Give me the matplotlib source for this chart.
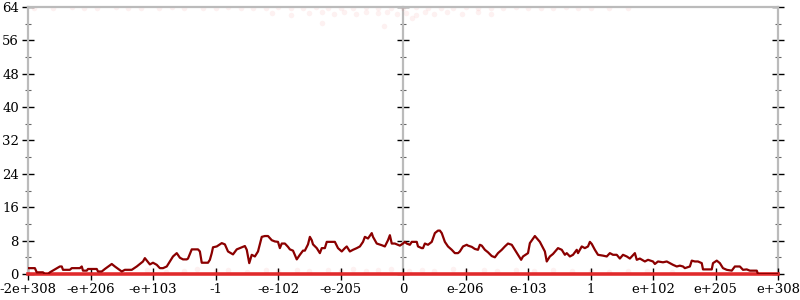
import numpy as np
import matplotlib.pyplot as plt

# tick positions along the ordered float axis, and their labels
tick_pos = [-6, -5, -4, -3, -2, -1, 0, 1, 2, 3, 4, 5, 6]
tick_lbl = ["-2e+308", "-e+206", "-e+103", "-1", "-e-102", "-e-205", "0",
            "e-206", "e-103", "1", "e+102", "e+205", "e+308"]

# histogram trace
line_x = [-6.00, -5.89, -5.86, -5.76, -5.73, -5.68, -5.65, -5.57, -5.49, -5.46,
          -5.44, -5.33, -5.30, -5.17, -5.14, -5.12, -5.06, -5.04, -4.90, -4.88,
          -4.82, -4.77, -4.66, -4.61, -4.50, -4.45, -4.34, -4.26, -4.16, -4.13,
          -4.05, -4.00, -3.94, -3.89, -3.84, -3.78, -3.68, -3.62, -3.57, -3.52,
          -3.46, -3.44, -3.38, -3.28, -3.25, -3.22, -3.12, -3.09, -3.06, -3.04,
          -2.98, -2.90, -2.85, -2.80, -2.72, -2.66, -2.58, -2.53, -2.50, -2.46,
          -2.42, -2.37, -2.32, -2.26, -2.21, -2.16, -2.10, -2.05, -2.00, -1.97,
          -1.94, -1.89, -1.84, -1.81, -1.76, -1.70, -1.65, -1.60, -1.57, -1.52,
          -1.49, -1.46, -1.44, -1.38, -1.33, -1.30, -1.25, -1.22, -1.17, -1.09,
          -1.04, -0.98, -0.93, -0.90, -0.85, -0.80, -0.74, -0.69, -0.64, -0.61,
          -0.56, -0.50, -0.48, -0.42, -0.34, -0.29, -0.24, -0.21, -0.18, -0.13,
          -0.05, 0.00, 0.03, 0.06, 0.11, 0.14, 0.22, 0.24, 0.30, 0.32,
          0.35, 0.40, 0.46, 0.51, 0.56, 0.59, 0.62, 0.67, 0.72, 0.78,
          0.83, 0.88, 0.91, 0.96, 1.02, 1.04, 1.10, 1.15, 1.20, 1.23,
          1.26, 1.31, 1.36, 1.42, 1.47, 1.52, 1.58, 1.63, 1.68, 1.74,
          1.79, 1.84, 1.89, 1.92, 2.00, 2.03, 2.11, 2.19, 2.27, 2.30,
          2.35, 2.40, 2.48, 2.54, 2.59, 2.62, 2.67, 2.72, 2.78, 2.80,
          2.86, 2.91, 2.96, 2.99, 3.02, 3.07, 3.12, 3.20, 3.26, 3.31,
          3.36, 3.42, 3.47, 3.52, 3.58, 3.63, 3.71, 3.74, 3.79, 3.87,
          3.92, 4.00, 4.03, 4.08, 4.16, 4.22, 4.27, 4.32, 4.38, 4.43,
          4.48, 4.51, 4.59, 4.62, 4.67, 4.72, 4.78, 4.80, 4.94, 4.96,
          5.02, 5.07, 5.12, 5.18, 5.26, 5.31, 5.39, 5.44, 5.50, 5.55,
          5.66, 5.68, 6.00]
line_y = [1.4, 1.4, 0.4, 0.4, 0.0, 0.0, 0.4, 1.1, 1.8, 1.8,
          1.0, 1.0, 1.4, 1.4, 1.8, 0.8, 0.8, 1.2, 1.2, 0.6,
          0.6, 1.2, 2.4, 1.8, 0.6, 1.0, 1.0, 1.8, 3.0, 3.8,
          2.3, 2.7, 2.2, 1.4, 1.4, 1.8, 4.2, 5.0, 3.9, 3.5,
          3.5, 3.7, 5.9, 5.9, 5.4, 2.7, 2.7, 3.4, 5.0, 6.4,
          6.6, 7.4, 7.1, 5.4, 4.7, 5.9, 6.4, 6.7, 5.8, 2.6,
          4.6, 4.2, 5.4, 8.9, 9.1, 9.1, 8.1, 7.8, 7.7, 6.2,
          7.3, 7.3, 6.5, 5.9, 5.6, 3.5, 4.6, 5.6, 5.6, 7.1,
          8.9, 8.1, 7.1, 6.2, 5.0, 6.2, 6.2, 7.7, 7.7, 7.7,
          6.2, 5.4, 6.2, 6.6, 5.4, 5.8, 6.2, 6.6, 7.7, 8.9,
          8.5, 9.8, 8.9, 7.3, 6.9, 6.6, 8.1, 9.3, 7.3, 7.3,
          6.8, 7.3, 7.7, 7.3, 7.0, 7.7, 7.7, 6.6, 6.2, 6.2,
          7.3, 7.0, 7.7, 9.8, 10.4, 10.4, 9.8, 7.7, 6.6, 5.8,
          5.0, 5.0, 5.4, 6.6, 7.0, 6.8, 6.5, 6.0, 5.8, 7.0,
          6.8, 5.8, 5.2, 4.3, 4.0, 5.0, 5.8, 6.6, 7.3, 7.0,
          5.8, 4.6, 3.4, 4.2, 5.0, 7.4, 9.1, 7.7, 5.4, 3.0,
          4.2, 4.8, 6.2, 5.8, 4.6, 5.0, 4.2, 4.6, 5.8, 5.0,
          6.6, 6.2, 6.6, 7.7, 7.2, 5.8, 4.6, 4.4, 4.2, 5.0,
          4.6, 4.6, 3.7, 4.6, 4.2, 3.7, 5.0, 3.4, 3.7, 3.0,
          3.4, 3.0, 2.4, 3.0, 2.8, 3.0, 2.6, 2.2, 1.8, 2.0,
          1.8, 1.4, 1.8, 3.2, 3.0, 3.0, 2.6, 1.1, 1.1, 2.6,
          3.2, 2.6, 1.4, 1.0, 0.8, 1.8, 1.8, 1.0, 1.1, 0.8,
          0.8, 0.0, 0.0]

# faint samples pinned at the floor and ceiling
floor_x = [-6, 6]
floor_y = [0, 0]
low_x = [-4.4, -4.1, -3.8, -3.5, -3.3, -3.0, -2.8, -2.5, -2.2, -2.0, -1.7, -1.5,
         -1.2, -1.0, -0.8, -0.6, -0.4, -0.2, 0.1, 0.3, 0.5, 0.8, 1.0, 1.3, 1.5,
         1.8, 2.1, 2.4, 2.7, 3.0, 3.3, 3.6, 3.9, 4.3]
low_y = [0.6, 0.9, 0.5, 0.8, 1.1, 0.6, 0.9, 0.5, 1.0, 0.7, 0.9, 0.6,
         1.0, 0.7, 1.2, 0.8, 0.9, 1.1, 0.7, 1.0, 0.6, 1.2, 0.8, 0.9, 0.6,
         1.0, 0.7, 0.9, 0.6, 0.8, 0.5, 0.7, 0.6, 0.5]
top_x = [-5.9, -5.6, -5.3, -5.1, -4.9, -4.6, -4.4, -4.2, -3.9, -3.7, -3.5, -3.2,
         -3.0, -2.8, -2.6, -2.4, -2.2, -2.0, -1.8, -1.6, -1.4, -1.2, -1.0, -0.8,
         -0.6, -0.4, -0.2, 0.0, 0.2, 0.4, 0.6, 0.8, 1.0, 1.2, 1.4, 1.6, 1.8,
         2.0, 2.2, 2.4, 2.6, 2.8, 3.0, 3.3, 3.6,
         -2.1, -1.8, -1.5, -1.3, -1.1, -0.95, -0.75, -0.6, -0.4, -0.25, -0.1,
         0.05, 0.2, 0.35, 0.5, 0.7, 0.95, 1.2, 1.4, -1.3, -0.3, 0.15]
top_y = [63.8, 63.7, 63.9, 63.7, 63.8, 63.9, 63.7, 63.8, 63.7, 63.9, 63.8, 63.7,
         63.8, 63.9, 63.7, 63.8, 63.7, 63.9, 63.8, 63.7, 63.9, 63.8, 63.7, 63.8,
         63.9, 63.7, 63.8, 63.7, 63.9, 63.8, 63.7, 63.8, 63.9, 63.7, 63.8, 63.7,
         63.9, 63.8, 63.7, 63.8, 63.9, 63.7, 63.8, 63.7, 63.8,
         62.5, 62.0, 62.6, 62.9, 62.4, 62.7, 62.2, 62.8, 62.5, 62.9, 62.3,
         62.6, 62.0, 62.9, 62.4, 62.7, 62.3, 62.8, 62.2, 60.2, 59.4, 61.3]

plt.rcParams['font.family'] = 'DejaVu Serif'

fig = plt.figure(figsize=(8, 3), dpi=100)
ax = fig.add_axes([0.035, 0.0867, 0.9375, 0.89])

ax.plot(low_x, low_y, 'o', ms=4, color='#e41a1c', alpha=0.06, mec='none')
ax.plot(top_x, top_y, 'o', ms=4, color='#e41a1c', alpha=0.06, mec='none')
ax.plot(floor_x, floor_y, color='#e41a1c', lw=2.6, alpha=0.9, clip_on=False,
        zorder=3)
ax.plot(line_x, line_y, color='#8b0000', lw=1.6, zorder=4)

ax.set_xlim(-6, 6)
ax.set_ylim(0, 64)
ax.set_xticks(tick_pos)
ax.set_xticklabels(tick_lbl)
ax.set_yticks(np.arange(0, 65, 8))
ax.set_yticks(np.arange(4, 64, 8), minor=True)

for s in ['left', 'right', 'top', 'bottom']:
    ax.spines[s].set_color('#bbbbbb')
    ax.spines[s].set_linewidth(1.6)
ax.spines['right'].set_visible(False)

ax.tick_params(axis='both', which='major', direction='inout', length=9,
               width=1, color='black', labelsize=9.5, pad=2)
ax.tick_params(axis='y', which='minor', direction='inout', length=5,
               width=0.8, color='#666666')

# centre and right axes with the same ticks, no labels
for loc in [0.5, 1.0]:
    sec = ax.secondary_yaxis(loc)
    sec.set_yticks(np.arange(0, 65, 8))
    sec.set_yticks(np.arange(4, 64, 8), minor=True)
    sec.set_yticklabels([])
    sec.spines['right'].set_color('#bbbbbb')
    sec.spines['right'].set_linewidth(1.6)
    sec.tick_params(axis='y', which='major', direction='inout', length=9,
                    width=1, color='black')
    sec.tick_params(axis='y', which='minor', direction='inout', length=5,
                    width=0.8, color='#666666')

fig.savefig('out.png', dpi=100)
